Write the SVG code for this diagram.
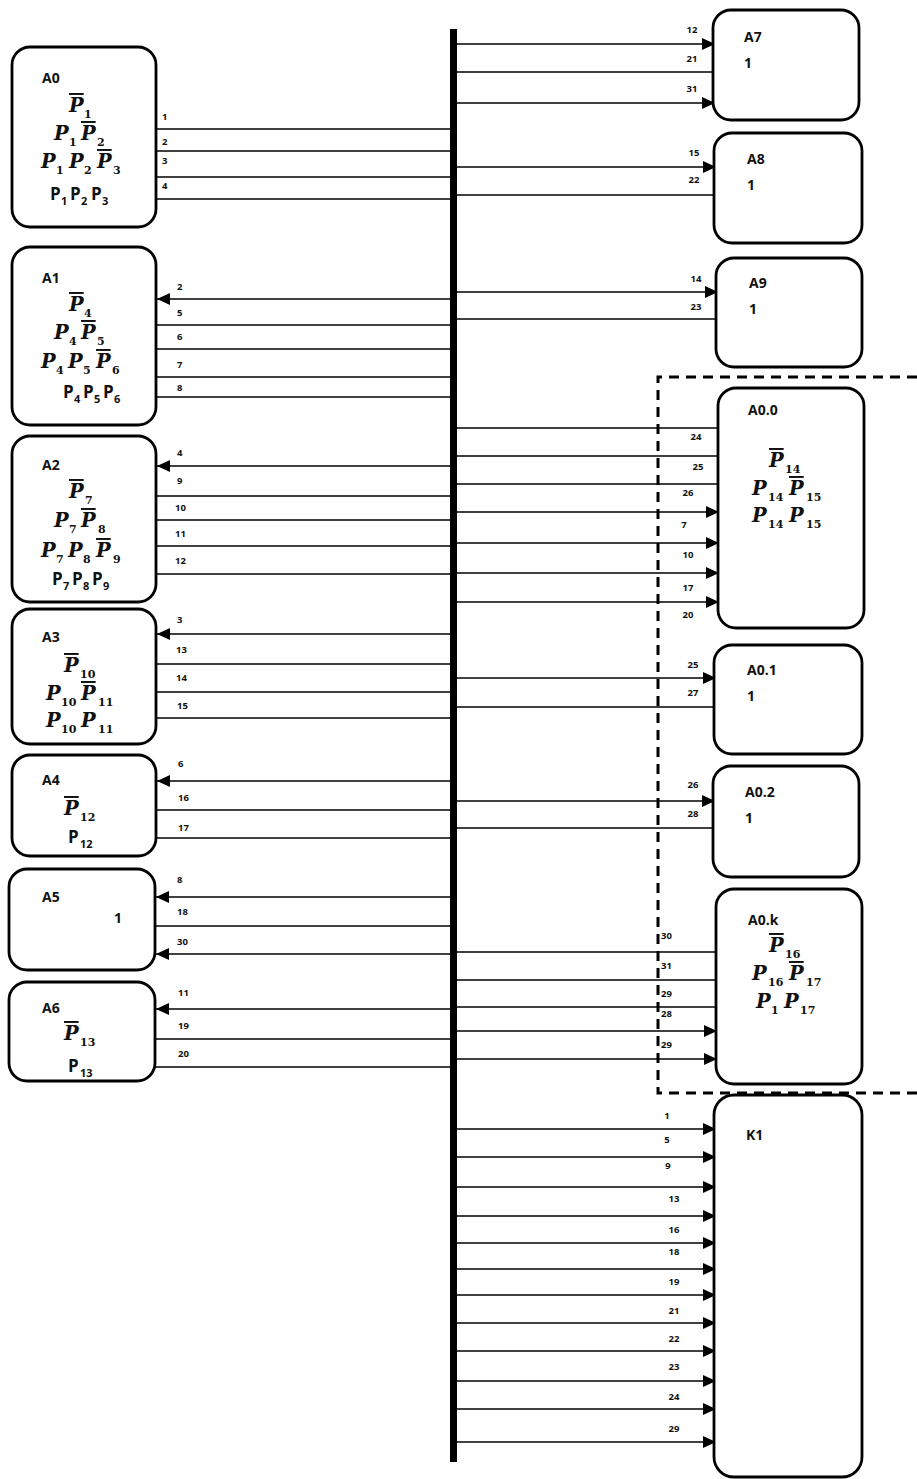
<svg xmlns="http://www.w3.org/2000/svg" width="917" height="1479" viewBox="0 0 917 1479">
<style>
.box{fill:#fff;stroke:#000;stroke-width:2.8}
.ln{stroke:#000;stroke-width:1.6;fill:none}
.ar{stroke:#000;stroke-width:1.6;fill:none;marker-end:url(#ah)}
.nm{font-family:"Open Sans",sans-serif;font-weight:bold;font-size:14px;fill:#111}
.lb{font-family:"Open Sans",sans-serif;font-weight:bold;font-size:9.5px;fill:#111}
.lbm{font-family:"Open Sans",sans-serif;font-weight:bold;font-size:9.5px;fill:#111;text-anchor:middle}
.pi{font-family:"DejaVu Serif",serif;font-weight:bold;font-style:italic;font-size:19.5px;fill:#111}
.sb{font-family:"DejaVu Serif",serif;font-weight:bold;font-size:11px;fill:#111}
.ps{font-family:"Open Sans",sans-serif;font-weight:bold;font-size:17px;fill:#111}
.ss{font-family:"Open Sans",sans-serif;font-weight:bold;font-size:11px;fill:#111}
.ov{text-decoration:overline}
</style>
<defs>
<marker id="ah" viewBox="0 0 13 12" refX="13" refY="6" markerWidth="13" markerHeight="12" markerUnits="userSpaceOnUse" orient="auto"><path d="M0,0 L13,6 L0,12 z" fill="#000"/></marker>
</defs>
<rect width="917" height="1479" fill="#fff"/>

<g id="connectors">
<line x1="453.5" y1="29" x2="453.5" y2="1462" stroke="#000" stroke-width="7"/>
<!-- left side -->
<line class="ln" x1="156" y1="129" x2="450" y2="129"/>
<line class="ln" x1="156" y1="151" x2="450" y2="151"/>
<line class="ln" x1="156" y1="177" x2="450" y2="177"/>
<line class="ln" x1="156" y1="199" x2="450" y2="199"/>
<line class="ar" x1="450" y1="299" x2="157" y2="299"/>
<line class="ln" x1="156" y1="325" x2="450" y2="325"/>
<line class="ln" x1="156" y1="349" x2="450" y2="349"/>
<line class="ln" x1="156" y1="377" x2="450" y2="377"/>
<line class="ln" x1="156" y1="397" x2="450" y2="397"/>
<line class="ar" x1="450" y1="466" x2="157" y2="466"/>
<line class="ln" x1="156" y1="496" x2="450" y2="496"/>
<line class="ln" x1="156" y1="520" x2="450" y2="520"/>
<line class="ln" x1="156" y1="546" x2="450" y2="546"/>
<line class="ln" x1="156" y1="574" x2="450" y2="574"/>
<line class="ar" x1="450" y1="634" x2="157" y2="634"/>
<line class="ln" x1="156" y1="664" x2="450" y2="664"/>
<line class="ln" x1="156" y1="692" x2="450" y2="692"/>
<line class="ln" x1="156" y1="718" x2="450" y2="718"/>
<line class="ar" x1="450" y1="781" x2="157" y2="781"/>
<line class="ln" x1="156" y1="810" x2="450" y2="810"/>
<line class="ln" x1="156" y1="838" x2="450" y2="838"/>
<line class="ar" x1="450" y1="897" x2="156" y2="897"/>
<line class="ln" x1="155" y1="926" x2="450" y2="926"/>
<line class="ar" x1="450" y1="954" x2="156" y2="954"/>
<line class="ar" x1="450" y1="1009" x2="156" y2="1009"/>
<line class="ln" x1="155" y1="1039" x2="450" y2="1039"/>
<line class="ln" x1="155" y1="1067" x2="450" y2="1067"/>
<!-- right side -->
<line class="ar" x1="457" y1="44" x2="715" y2="44"/>
<line class="ln" x1="457" y1="72" x2="713" y2="72"/>
<line class="ar" x1="457" y1="103" x2="715" y2="103"/>
<line class="ar" x1="457" y1="167" x2="716" y2="167"/>
<line class="ln" x1="457" y1="195" x2="714" y2="195"/>
<line class="ar" x1="457" y1="292" x2="718" y2="292"/>
<line class="ln" x1="457" y1="319" x2="716" y2="319"/>
<line class="ln" x1="457" y1="428" x2="718" y2="428"/>
<line class="ln" x1="457" y1="456" x2="718" y2="456"/>
<line class="ln" x1="457" y1="484" x2="718" y2="484"/>
<line class="ar" x1="457" y1="512" x2="719" y2="512"/>
<line class="ar" x1="457" y1="543" x2="719" y2="543"/>
<line class="ar" x1="457" y1="573" x2="719" y2="573"/>
<line class="ar" x1="457" y1="602" x2="719" y2="602"/>
<line class="ar" x1="457" y1="678" x2="716" y2="678"/>
<line class="ln" x1="457" y1="707" x2="714" y2="707"/>
<line class="ar" x1="457" y1="801" x2="715" y2="801"/>
<line class="ln" x1="457" y1="828" x2="713" y2="828"/>
<line class="ln" x1="457" y1="952" x2="716" y2="952"/>
<line class="ln" x1="457" y1="980" x2="716" y2="980"/>
<line class="ln" x1="457" y1="1007" x2="716" y2="1007"/>
<line class="ar" x1="457" y1="1031" x2="717" y2="1031"/>
<line class="ar" x1="457" y1="1059" x2="717" y2="1059"/>
<line class="ar" x1="457" y1="1129" x2="716" y2="1129"/>
<line class="ar" x1="457" y1="1157" x2="716" y2="1157"/>
<line class="ar" x1="457" y1="1187" x2="716" y2="1187"/>
<line class="ar" x1="457" y1="1216" x2="716" y2="1216"/>
<line class="ar" x1="457" y1="1243" x2="716" y2="1243"/>
<line class="ar" x1="457" y1="1269" x2="716" y2="1269"/>
<line class="ar" x1="457" y1="1295" x2="716" y2="1295"/>
<line class="ar" x1="457" y1="1323" x2="716" y2="1323"/>
<line class="ar" x1="457" y1="1351" x2="716" y2="1351"/>
<line class="ar" x1="457" y1="1381" x2="716" y2="1381"/>
<line class="ar" x1="457" y1="1409" x2="716" y2="1409"/>
<line class="ar" x1="457" y1="1442" x2="716" y2="1442"/>
<!-- dashed group boundary -->
<path d="M917,377 H658 V1093 H917" fill="none" stroke="#000" stroke-width="3" stroke-dasharray="10 7"/>
<!-- left labels -->
<text class="lb" x="162" y="120">1</text>
<text class="lb" x="162" y="145">2</text>
<text class="lb" x="162" y="164">3</text>
<text class="lb" x="162" y="189">4</text>
<text class="lb" x="177" y="290">2</text>
<text class="lb" x="177" y="316">5</text>
<text class="lb" x="177" y="340">6</text>
<text class="lb" x="177" y="368">7</text>
<text class="lb" x="177" y="391">8</text>
<text class="lb" x="177" y="456">4</text>
<text class="lb" x="177" y="484">9</text>
<text class="lb" x="175" y="511">10</text>
<text class="lb" x="175" y="537">11</text>
<text class="lb" x="175" y="564">12</text>
<text class="lb" x="177" y="623">3</text>
<text class="lb" x="176" y="653">13</text>
<text class="lb" x="176" y="681">14</text>
<text class="lb" x="177" y="709">15</text>
<text class="lb" x="178" y="767">6</text>
<text class="lb" x="178" y="801">16</text>
<text class="lb" x="178" y="831">17</text>
<text class="lb" x="177" y="883">8</text>
<text class="lb" x="177" y="915">18</text>
<text class="lb" x="177" y="945">30</text>
<text class="lb" x="178" y="996">11</text>
<text class="lb" x="178" y="1029">19</text>
<text class="lb" x="178" y="1057">20</text>
<!-- right labels -->
<text class="lbm" x="692" y="33">12</text>
<text class="lbm" x="692" y="62">21</text>
<text class="lbm" x="692" y="92">31</text>
<text class="lbm" x="694" y="156">15</text>
<text class="lbm" x="694" y="183">22</text>
<text class="lbm" x="696" y="282">14</text>
<text class="lbm" x="696" y="310">23</text>
<text class="lbm" x="696" y="440">24</text>
<text class="lbm" x="698" y="470">25</text>
<text class="lbm" x="688" y="496">26</text>
<text class="lbm" x="684" y="528">7</text>
<text class="lbm" x="688" y="558">10</text>
<text class="lbm" x="688" y="591">17</text>
<text class="lbm" x="688" y="618">20</text>
<text class="lbm" x="693" y="668">25</text>
<text class="lbm" x="693" y="696">27</text>
<text class="lbm" x="693" y="788">26</text>
<text class="lbm" x="693" y="817">28</text>
<text class="lb" x="661" y="939">30</text>
<text class="lb" x="661" y="969">31</text>
<text class="lb" x="661" y="997">29</text>
<text class="lb" x="661" y="1017">28</text>
<text class="lb" x="661" y="1048">29</text>
<text class="lbm" x="667" y="1119">1</text>
<text class="lbm" x="667" y="1143">5</text>
<text class="lbm" x="668" y="1169">9</text>
<text class="lbm" x="674" y="1202">13</text>
<text class="lbm" x="674" y="1233">16</text>
<text class="lbm" x="674" y="1255">18</text>
<text class="lbm" x="674" y="1285">19</text>
<text class="lbm" x="674" y="1314">21</text>
<text class="lbm" x="674" y="1342">22</text>
<text class="lbm" x="674" y="1370">23</text>
<text class="lbm" x="674" y="1400">24</text>
<text class="lbm" x="674" y="1432">29</text>
</g>

<g id="A0">
<rect class="box" x="12" y="47" width="144" height="180" rx="18"/>
<text class="nm" x="42" y="83">A0</text>
<text><tspan class="pi ov" x="69" y="112">P</tspan><tspan class="sb" x="84" y="118">1</tspan></text>
<text><tspan class="pi" x="54" y="140">P</tspan><tspan class="sb" x="69" y="146">1</tspan><tspan class="pi ov" x="81" y="140">P</tspan><tspan class="sb" x="97" y="146">2</tspan></text>
<text><tspan class="pi" x="41" y="168">P</tspan><tspan class="sb" x="56" y="174">1</tspan><tspan class="pi" x="69" y="168">P</tspan><tspan class="sb" x="84" y="174">2</tspan><tspan class="pi ov" x="97" y="168">P</tspan><tspan class="sb" x="113" y="174">3</tspan></text>
<text><tspan class="ps" x="50" y="200">P</tspan><tspan class="ss" x="61" y="205">1</tspan><tspan class="ps" x="70" y="200">P</tspan><tspan class="ss" x="81" y="205">2</tspan><tspan class="ps" x="91" y="200">P</tspan><tspan class="ss" x="102" y="205">3</tspan></text>
</g>

<g id="A1">
<rect class="box" x="12" y="247" width="144" height="178" rx="18"/>
<text class="nm" x="42" y="283">A1</text>
<text><tspan class="pi ov" x="69" y="311">P</tspan><tspan class="sb" x="84" y="317">4</tspan></text>
<text><tspan class="pi" x="54" y="339">P</tspan><tspan class="sb" x="69" y="345">4</tspan><tspan class="pi ov" x="81" y="339">P</tspan><tspan class="sb" x="97" y="345">5</tspan></text>
<text><tspan class="pi" x="41" y="368">P</tspan><tspan class="sb" x="56" y="374">4</tspan><tspan class="pi" x="68" y="368">P</tspan><tspan class="sb" x="83" y="374">5</tspan><tspan class="pi ov" x="96" y="368">P</tspan><tspan class="sb" x="112" y="374">6</tspan></text>
<text><tspan class="ps" x="63" y="398">P</tspan><tspan class="ss" x="74" y="403">4</tspan><tspan class="ps" x="83" y="398">P</tspan><tspan class="ss" x="94" y="403">5</tspan><tspan class="ps" x="103" y="398">P</tspan><tspan class="ss" x="114" y="403">6</tspan></text>
</g>

<g id="A2">
<rect class="box" x="12" y="436" width="144" height="166" rx="18"/>
<text class="nm" x="42" y="470">A2</text>
<text><tspan class="pi ov" x="69" y="498">P</tspan><tspan class="sb" x="85" y="504">7</tspan></text>
<text><tspan class="pi" x="54" y="527">P</tspan><tspan class="sb" x="69" y="533">7</tspan><tspan class="pi ov" x="81" y="527">P</tspan><tspan class="sb" x="98" y="533">8</tspan></text>
<text><tspan class="pi" x="41" y="557">P</tspan><tspan class="sb" x="56" y="563">7</tspan><tspan class="pi" x="68" y="557">P</tspan><tspan class="sb" x="83" y="563">8</tspan><tspan class="pi ov" x="96" y="557">P</tspan><tspan class="sb" x="113" y="563">9</tspan></text>
<text><tspan class="ps" x="52" y="585">P</tspan><tspan class="ss" x="63" y="590">7</tspan><tspan class="ps" x="72" y="585">P</tspan><tspan class="ss" x="83" y="590">8</tspan><tspan class="ps" x="92" y="585">P</tspan><tspan class="ss" x="103" y="590">9</tspan></text>
</g>

<g id="A3">
<rect class="box" x="12" y="609" width="144" height="135" rx="18"/>
<text class="nm" x="42" y="642">A3</text>
<text><tspan class="pi ov" x="64" y="672">P</tspan><tspan class="sb" x="80" y="678">10</tspan></text>
<text><tspan class="pi" x="46" y="700">P</tspan><tspan class="sb" x="61" y="706">10</tspan><tspan class="pi ov" x="81" y="700">P</tspan><tspan class="sb" x="98" y="706">11</tspan></text>
<text><tspan class="pi" x="46" y="727">P</tspan><tspan class="sb" x="61" y="733">10</tspan><tspan class="pi" x="81" y="727">P</tspan><tspan class="sb" x="98" y="733">11</tspan></text>
</g>

<g id="A4">
<rect class="box" x="12" y="755" width="144" height="101" rx="18"/>
<text class="nm" x="42" y="785">A4</text>
<text><tspan class="pi ov" x="64" y="815">P</tspan><tspan class="sb" x="80" y="821">12</tspan></text>
<text><tspan class="ps" x="68" y="843">P</tspan><tspan class="ss" x="80" y="848">12</tspan></text>
</g>

<g id="A5">
<rect class="box" x="9" y="869" width="146" height="101" rx="18"/>
<text class="nm" x="42" y="902">A5</text>
<text class="nm" x="114" y="923">1</text>
</g>

<g id="A6">
<rect class="box" x="9" y="982" width="146" height="99" rx="18"/>
<text class="nm" x="42" y="1013">A6</text>
<text><tspan class="pi ov" x="64" y="1040">P</tspan><tspan class="sb" x="80" y="1046">13</tspan></text>
<text><tspan class="ps" x="68" y="1072">P</tspan><tspan class="ss" x="80" y="1077">13</tspan></text>
</g>

<g id="A7">
<rect class="box" x="713" y="10" width="146" height="110" rx="18"/>
<text class="nm" x="744" y="42">A7</text>
<text class="nm" x="744" y="68">1</text>
</g>

<g id="A8">
<rect class="box" x="714" y="133" width="148" height="110" rx="18"/>
<text class="nm" x="747" y="164">A8</text>
<text class="nm" x="747" y="190">1</text>
</g>

<g id="A9">
<rect class="box" x="716" y="258" width="146" height="109" rx="18"/>
<text class="nm" x="749" y="288">A9</text>
<text class="nm" x="749" y="314">1</text>
</g>

<g id="A0.0">
<rect class="box" x="718" y="388" width="146" height="240" rx="18"/>
<text class="nm" x="748" y="415">A0.0</text>
<text><tspan class="pi ov" x="769" y="467">P</tspan><tspan class="sb" x="785" y="473">14</tspan></text>
<text><tspan class="pi" x="752" y="495">P</tspan><tspan class="sb" x="768" y="501">14</tspan><tspan class="pi ov" x="789" y="495">P</tspan><tspan class="sb" x="806" y="501">15</tspan></text>
<text><tspan class="pi" x="752" y="522">P</tspan><tspan class="sb" x="768" y="528">14</tspan><tspan class="pi" x="789" y="522">P</tspan><tspan class="sb" x="806" y="528">15</tspan></text>
</g>

<g id="A0.1">
<rect class="box" x="714" y="645" width="148" height="109" rx="18"/>
<text class="nm" x="747" y="675">A0.1</text>
<text class="nm" x="747" y="701">1</text>
</g>

<g id="A0.2">
<rect class="box" x="713" y="766" width="146" height="111" rx="18"/>
<text class="nm" x="745" y="797">A0.2</text>
<text class="nm" x="745" y="823">1</text>
</g>

<g id="A0.k">
<rect class="box" x="716" y="889" width="146" height="195" rx="18"/>
<text class="nm" x="748" y="925">A0.k</text>
<text><tspan class="pi ov" x="769" y="952">P</tspan><tspan class="sb" x="785" y="958">16</tspan></text>
<text><tspan class="pi" x="752" y="980">P</tspan><tspan class="sb" x="768" y="986">16</tspan><tspan class="pi ov" x="789" y="980">P</tspan><tspan class="sb" x="806" y="986">17</tspan></text>
<text><tspan class="pi" x="756" y="1008">P</tspan><tspan class="sb" x="771" y="1014">1</tspan><tspan class="pi" x="784" y="1008">P</tspan><tspan class="sb" x="800" y="1014">17</tspan></text>
</g>

<g id="K1">
<rect class="box" x="714" y="1095" width="148" height="382" rx="20"/>
<text class="nm" x="746" y="1140">K1</text>
</g>
</svg>
